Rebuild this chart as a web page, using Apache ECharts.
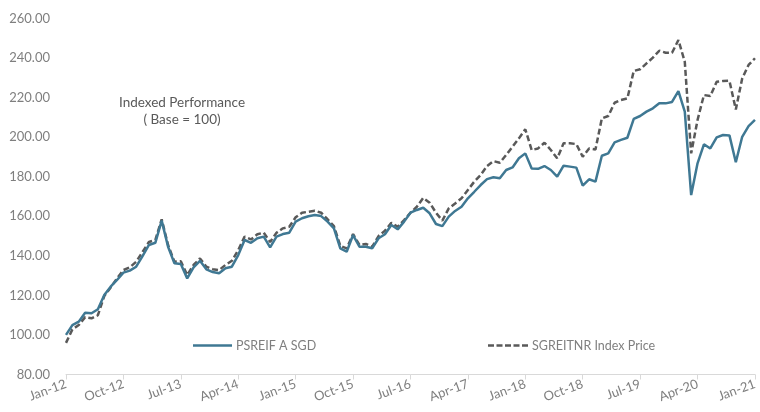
<!DOCTYPE html>
<html>
<head>
<meta charset="utf-8">
<script src="https://cdn.jsdelivr.net/npm/echarts@6/dist/echarts.min.js"></script>
<style>
html,body{margin:0;padding:0;background:#fff;}
#c{width:760px;height:412px;}
</style>
</head>
<body>
<div id="c"></div>
<script>
const monthNames = ['Jan','Feb','Mar','Apr','May','Jun','Jul','Aug','Sep','Oct','Nov','Dec'];
const years = ['12','13','14','15','16','17','18','19','20','21'];
const categories = [];
years.forEach(function (y) { monthNames.forEach(function (m) { categories.push(m + '-' + y); }); });
categories.length = 109; // Jan-12 .. Jan-21

const psreif = [
  100, 105, 106.7, 111.2, 111, 113, 120.2, 124.4, 127.8, 131.5, 132.5, 134.5,
  139.9, 145.5, 146.6, 157.8, 144.6, 136.2, 135.9, 128.6, 134.2, 137.5, 133.2, 131.8,
  131.2, 133.7, 134.5, 140.4, 148, 146.6, 148.9, 149.7, 144.3, 149.7, 151, 151.7,
  157.3, 159, 160, 160.6, 160.1, 157.3, 153.9, 143.8, 142.1, 150.5, 144.6, 144.6,
  143.8, 148.9, 150.9, 155.6, 153.4, 157.3, 161.8, 163.2, 164.3, 161.5, 156.1, 155,
  159.8, 162.7, 164.8, 169.1, 172.4, 175.8, 178.8, 179.7, 179.2, 183.4, 184.7, 189.3,
  191.8, 184.2, 184, 185.4, 183.4, 180, 185.6, 185.1, 184.6, 175.5, 178.7, 177.5,
  190.6, 191.8, 197.4, 198.6, 199.7, 209.2, 210.7, 212.9, 214.6, 217.1, 217.1, 217.8,
  223.3, 212.9, 170.7, 186.8, 196.4, 194.3, 199.9, 201.1, 200.9, 187.3, 200.2, 205.6,
  208.7
];
const sgreitnr = [
  96, 102.8, 105, 109, 108.4, 110, 119.7, 124, 128.6, 132.8, 134.2, 137,
  142, 147, 148, 158.5, 145.5, 137, 137.3, 130.3, 135.4, 138.7, 134.5, 133.2,
  132.8, 135.4, 137.5, 142.9, 149.7, 148.3, 150.9, 151.7, 147, 151.7, 153.9, 154.7,
  159.5, 161.8, 162.3, 162.8, 161.8, 158.5, 155, 145, 143.8, 151, 145.5, 146,
  144.6, 150, 152.7, 156.7, 154.7, 158.1, 161.8, 164.8, 169.3, 166.9, 161.8, 157.8,
  164, 166.5, 169.1, 173.3, 177.5, 180.9, 185.4, 187.9, 187.1, 191, 195.2, 199.4,
  204, 193.5, 194.3, 197.2, 193.5, 189.3, 196.9, 196.9, 196.5, 190.1, 194.3, 193.8,
  209.5, 210.7, 217.4, 218.8, 219.6, 233.5, 234.3, 237.3, 240.2, 243.7, 242.7, 242.7,
  249.1, 238.1, 191.8, 208.7, 221.3, 220.8, 228, 228.4, 228.5, 214, 229.7, 236.5,
  239.9
];
const seriesNames = ['PSREIF A SGD', 'SGREITNR Index Price'];
const titleLines = ['Indexed Performance', '( Base = 100)'];

const font = 'Lato, "Open Sans", sans-serif';
const solidIcon = 'path://M0,0H40V2.5H0Z';
const dashIcon = 'path://M0,0h6v2.5h-6z M8.5,0h6v2.5h-6z M17,0h6v2.5h-6z M25.5,0h6v2.5h-6z M34,0h6v2.5h-6z';
const chart = echarts.init(document.getElementById('c'), null, {renderer: 'canvas'});
chart.setOption({
  animation: false,
  backgroundColor: '#ffffff',
  title: {
    text: titleLines.join('\n'),
    left: 177, top: 89, textAlign: 'center',
    textStyle: {fontFamily: font, fontSize: 13.5, fontWeight: 'normal', color: '#595959', lineHeight: 17}
  },
  legend: [{
    data: [{name: seriesNames[0], icon: solidIcon}],
    left: 188, top: 334,
    itemWidth: 39, itemHeight: 2.5, itemGap: 4,
    textStyle: {fontFamily: font, fontSize: 12.5, color: '#7f7f7f', padding: [0,0,0,-1]}
  }, {
    data: [{name: seriesNames[1], icon: dashIcon}],
    left: 483, top: 334,
    itemWidth: 40, itemHeight: 2.5, itemGap: 4,
    textStyle: {fontFamily: font, fontSize: 12.5, color: '#7f7f7f', padding: [0,0,0,-1]}
  }],
  grid: {left: 66, right: 2, top: 18.5, bottom: 37.5, containLabel: false},
  xAxis: {
    type: 'category',
    data: categories,
    boundaryGap: false,
    axisLine: {show: true, lineStyle: {color: '#d9d9d9', width: 1}},
    axisTick: {show: true, interval: 8, length: 5, lineStyle: {color: '#d9d9d9'}},
    axisLabel: {interval: 8, rotate: 20, margin: 9, fontFamily: font, fontSize: 13, color: '#7f7f7f'},
    splitLine: {show: false}
  },
  yAxis: {
    type: 'value',
    min: 80, max: 260, interval: 20,
    axisLine: {show: false},
    axisTick: {show: false},
    splitLine: {show: false},
    axisLabel: {margin: 16, fontFamily: font, fontSize: 13, color: '#7f7f7f',
      formatter: function (v) { return v.toFixed(2); }}
  },
  series: [{
    name: seriesNames[1],
    type: 'line',
    data: sgreitnr,
    symbol: 'none',
    z: 2,
    lineStyle: {color: '#595959', width: 2.5, type: [6, 3]},
    itemStyle: {color: '#595959'}
  }, {
    name: seriesNames[0],
    type: 'line',
    data: psreif,
    symbol: 'none',
    z: 3,
    lineStyle: {color: '#3f7893', width: 2.5},
    itemStyle: {color: '#3f7893'}
  }]
});
</script>
</body>
</html>
